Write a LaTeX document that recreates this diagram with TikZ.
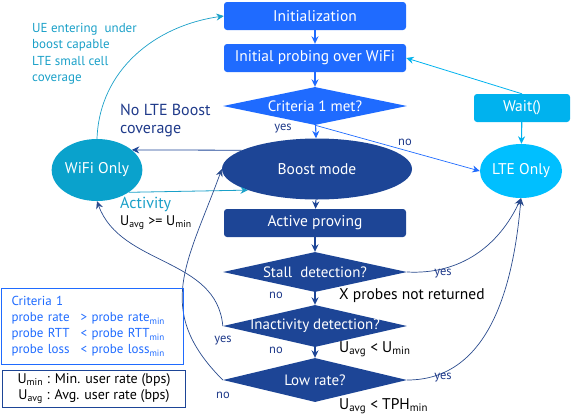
\documentclass[tikz,border=0pt]{standalone}
\usepackage{fontspec}
\setmainfont{PT Sans}
\usetikzlibrary{shapes.geometric,arrows.meta}
\definecolor{brightblue}{HTML}{1F6BFF}
\definecolor{darkblue}{HTML}{1D4596}
\definecolor{waitblue}{HTML}{00B2EE}
\definecolor{lteblue}{HTML}{00BFFF}
\definecolor{wifiteal}{HTML}{0AA2CC}
\definecolor{tealtext}{HTML}{1AA0C8}
\definecolor{labelblue}{HTML}{1F3A8A}
\definecolor{curveblue}{HTML}{2A4B8D}

\begin{document}
\begin{tikzpicture}[x=1pt, y=-1pt, >={Stealth[length=7.5pt,width=7pt,inset=2.5pt]},
    every node/.style={font=\fontsize{15.5}{18}\selectfont},
    process/.style={rectangle, rounded corners=3pt, minimum width=182pt,
                    minimum height=28pt, text=white, inner sep=0pt},
    decision/.style={diamond, fill=darkblue, minimum width=184pt, minimum height=40pt,
                     inner sep=0pt, text=white, font=\fontsize{15}{18}\selectfont,
                     execute at begin node={\hbox to 0pt\bgroup\hss},
                     execute at end node={\hss\egroup}},
    state/.style={ellipse, text=white, inner sep=0pt},
    link/.style={->, line width=1.1pt},
    curve/.style={->, line width=0.7pt, curveblue},
    tag/.style={font=\fontsize{12.5}{14}\selectfont, text=labelblue, inner sep=1pt},
    note/.style={align=left, inner sep=0pt, anchor=north west},
  ]
  \useasboundingbox (0,0) rectangle (572,416);

  % main column
  \node[process, fill=brightblue] (init)  at (315,16)  {Initialization};
  \node[process, fill=brightblue] (probe) at (315,58)  {Initial probing over WiFi};
  \node[decision, fill=brightblue, minimum height=38pt] (crit) at (315,106) {Criteria 1 met?};
  \node[state, fill=darkblue, minimum width=190pt, minimum height=61pt] (boost) at (317,169) {Boost mode};
  \node[process, fill=darkblue] (active) at (315,223) {Active proving};
  \node[decision] (stall) at (315,272) {Stall\ \ detection?};
  \node[decision, minimum height=42pt] (inact) at (315,326) {Inactivity detection?};
  \node[decision, minimum height=44pt] (low) at (315,380) {Low rate?};

  % side states
  \node[process, fill=waitblue, minimum width=96pt] (wait) at (522,108) {Wait()};
  \node[state, fill=wifiteal, minimum width=82pt, minimum height=62pt] (wifi) at (97,170) {WiFi Only};
  \node[state, fill=lteblue, minimum width=80pt, minimum height=54pt] (lte) at (521,171) {LTE Only};

  % straight links
  \draw[link, brightblue] (init) -- (probe);
  \draw[link, brightblue] (probe) -- (crit);
  \draw[link, brightblue] (crit) -- (boost);
  \draw[link, brightblue, line width=0.7pt] (crit.south) -- (lte.west);
  \draw[link, waitblue, line width=0.8pt] (wait.north) -- (probe.east);
  \draw[link, waitblue] (wait) -- (lte);
  \draw[link, darkblue] (boost) -- (active);
  \draw[link, darkblue] (active) -- (stall);
  \draw[link, darkblue] (stall) -- (inact);
  \draw[link, darkblue] (inact) -- (low);
  \draw[link, darkblue, line width=0.8pt] (boost.166) -- (wifi.30);
  \draw[link, tealtext, line width=0.8pt] (wifi.-35) -- (boost.197);
  \draw[link, tealtext, line width=0.7pt] (wifi.north) to[out=88, in=188] (init.west);

  % curved links
  \draw[curve] (stall.east) to[out=-3, in=-115] (lte.south);
  \draw[curve] (low.east) to[out=0, in=-95] (lte.south);
  \draw[curve] (inact.west) to[out=95, in=-70] (wifi.south);
  \draw[curve] (low.west) to[out=135, in=250, looseness=1.2] (boost.west);

  % branch labels
  \node[tag] (critYes)  at (283,129) {yes};
  \node[tag] (critNo)   at (405,142) {no};
  \node[tag] (stallNo)  at (276,295) {no};
  \node[tag] (inactNo)  at (276,350) {no};
  \node[tag] (lowNo)    at (223,395) {no};
  \node[tag] (inactYes) at (223,341) {yes};
  \node[tag] (stallYes) at (443,274) {yes};
  \node[tag] (lowYes)   at (443,378) {yes};

  % notes
  \node[note, text=tealtext, font=\fontsize{13}{16.3}\selectfont] (ueNote) at (32,23)
    {UE entering\ \ under\\boost capable\\LTE small cell\\coverage};
  \node[note, text=labelblue, font=\fontsize{16}{18}\selectfont] (noBoostNote) at (120,104)
    {No LTE Boost\\coverage};
  \node[note, text=tealtext, font=\fontsize{16}{18}\selectfont] (activityNote) at (120,197) {Activity};
  \node[note, font=\fontsize{14}{16}\selectfont] (uavgNote) at (120,215)
    {U\textsubscript{avg} >= U\textsubscript{min}};
  \node[note] (stallNote) at (339,288) {X probes not returned};
  \node[note] (inactNote) at (339,341) {U\textsubscript{avg} < U\textsubscript{min}};
  \node[note] (lowNote)   at (339,398) {U\textsubscript{avg} < TPH\textsubscript{min}};

  % legend
  \node[draw=brightblue, line width=1pt, text=brightblue, anchor=north west,
        font=\fontsize{13}{16}\selectfont, text width=162pt, minimum height=76pt,
        inner xsep=10pt, align=left] (critBox) at (1,288)
    {\begin{tabular}{@{}l@{\hspace{11pt}}l@{}}
      Criteria 1 & \\
      probe rate & > probe rate\textsubscript{min}\\
      probe RTT  & < probe RTT\textsubscript{min}\\
      probe loss & < probe loss\textsubscript{min}
     \end{tabular}};
  \node[draw=darkblue, line width=1pt, anchor=north west, minimum width=183pt,
        minimum height=35pt, align=center, font=\fontsize{14}{16}\selectfont] (unitBox) at (2,370)
    {U\textsubscript{min} : Min. user rate (bps)\\U\textsubscript{avg} : Avg. user rate (bps)};
\end{tikzpicture}
\end{document}
